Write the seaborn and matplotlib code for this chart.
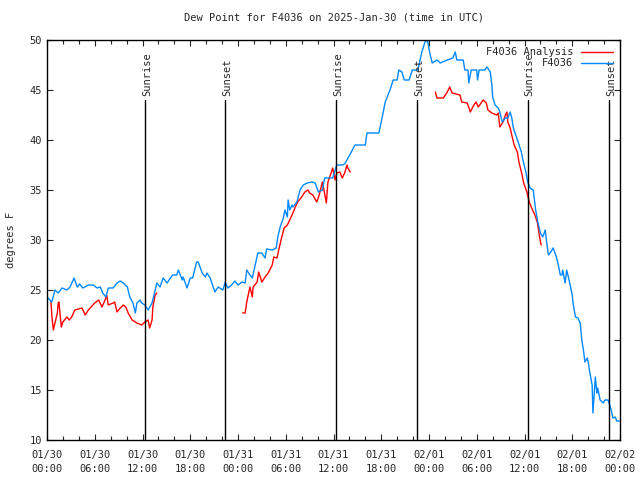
import matplotlib
matplotlib.use("Agg")
import matplotlib.pyplot as plt
import matplotlib.dates as mdates
from matplotlib.lines import Line2D
import numpy as np
import pandas as pd
import seaborn as sns

# hours since 2025-01-30 00:00 UTC, dew point in F
obs_hours = [0.0, 0.6, 1.0, 1.4, 1.9, 2.5, 2.9, 3.4, 3.8, 4.1, 4.5, 5.2, 5.8, 6.3, 6.7, 7.0, 7.4, 7.7, 8.3, 8.8,
             9.2, 9.6, 10.1, 10.4, 10.8, 11.1, 11.3, 11.7, 11.9, 12.3, 12.7, 13.2, 13.6, 13.8, 14.2, 14.6, 15.1,
             15.5, 15.8, 16.3, 16.5, 17.0, 17.1, 17.6, 18.0, 18.3, 18.8, 19.0, 19.5, 19.9, 20.1, 20.5, 21.1,
             21.5, 22.1, 22.4, 22.7, 23.2, 23.6, 24.0, 24.5, 24.9, 25.1, 25.5, 25.8, 26.1, 26.5, 27.0, 27.4,
             27.6, 28.3, 28.8, 29.0, 29.3, 29.7, 29.9, 30.2, 30.3, 30.5, 30.8, 30.9, 31.4, 31.8, 32.2, 32.7,
             33.3, 33.7, 34.1, 34.6, 34.9, 35.9, 36.4, 37.1, 37.4, 37.9, 38.7, 40.0, 40.2, 41.7, 42.1, 42.5,
             43.1, 43.5, 44.0, 44.2, 44.6, 44.9, 45.5, 45.9, 46.6, 47.1, 47.5, 47.8, 48.1, 48.4, 49.0, 49.4,
             50.3, 51.0, 51.3, 51.5, 52.3, 52.5, 52.9, 53.0, 53.3, 54.0, 54.1, 54.3, 55.0, 55.3, 55.7, 55.9,
             56.0, 56.3, 56.7, 56.9, 57.2, 57.6, 57.9, 58.2, 58.4, 58.6, 58.9, 59.2, 59.6, 59.8, 60.2, 60.4,
             60.7, 61.1, 61.4, 61.7, 62.0, 62.3, 62.6, 62.8, 63.0, 63.3, 63.6, 64.0, 64.2, 64.5, 64.7, 64.8,
             65.1, 65.3, 65.6, 66.0, 66.1, 66.4, 66.7, 67.0, 67.2, 67.4, 67.6, 67.9, 68.0, 68.2, 68.5, 68.6,
             68.9, 69.1, 69.2, 69.5, 69.9, 70.1, 70.5, 70.9, 71.1, 71.4, 71.6, 71.9]
obs_dewpt = [24.3, 23.8, 25.0, 24.7, 25.2, 25.0, 25.3, 26.2, 25.3, 25.6, 25.2, 25.5, 25.5, 25.2, 25.3, 24.7, 24.3,
             25.2, 25.2, 25.7, 25.9, 25.7, 25.3, 24.3, 23.7, 22.7, 23.7, 24.0, 23.7, 23.5, 23.0, 23.7, 25.0,
             25.7, 25.3, 26.2, 25.7, 26.2, 26.5, 26.5, 27.0, 26.0, 26.3, 25.2, 26.2, 26.2, 27.8, 27.8, 26.7,
             26.3, 26.7, 26.2, 24.8, 25.3, 25.0, 25.8, 25.2, 25.5, 25.9, 25.5, 25.8, 25.7, 27.0, 26.5, 26.2,
             27.3, 28.7, 28.7, 28.2, 29.1, 29.0, 29.2, 30.3, 31.3, 32.2, 33.0, 32.3, 34.0, 33.0, 33.5, 33.3,
             33.8, 35.0, 35.5, 35.7, 35.8, 35.7, 34.8, 35.0, 36.2, 36.2, 37.5, 37.5, 37.6, 38.3, 39.5, 39.5,
             40.7, 40.7, 42.2, 43.8, 45.0, 46.0, 46.0, 47.0, 46.8, 46.0, 46.0, 47.0, 47.0, 48.8, 49.8, 50.0,
             48.7, 47.7, 48.0, 47.7, 48.0, 48.2, 48.8, 48.0, 48.0, 47.0, 47.0, 45.7, 47.0, 47.0, 46.0, 47.0,
             47.0, 47.3, 46.8, 45.5, 44.3, 43.5, 43.2, 42.8, 41.8, 42.2, 42.2, 42.8, 42.2, 41.2, 40.5, 39.8,
             38.8, 38.0, 36.7, 35.8, 35.2, 35.0, 33.0, 31.7, 30.7, 30.3, 31.0, 29.7, 28.5, 28.8, 29.2, 28.3,
             27.7, 26.5, 26.5, 27.0, 25.7, 27.0, 26.0, 24.5, 23.7, 22.3, 22.2, 21.7, 20.0, 19.0, 17.8, 18.2,
             17.8, 16.8, 15.5, 12.7, 16.3, 14.7, 15.2, 14.0, 13.7, 14.0, 14.0, 13.0, 12.2, 12.3, 11.9, 11.9]

# analysis comes in three separate runs (gaps between them)
ana_hours_1 = [0.5, 0.6, 0.8, 1.0, 1.3, 1.4, 1.5, 1.8, 2.0, 2.5, 2.8, 3.1, 3.5, 4.4, 4.8, 5.2, 6.0, 6.5, 6.9, 7.3,
               7.5, 7.7, 8.3, 8.5, 8.8, 9.2, 9.6, 9.9, 10.2, 10.7, 11.3, 11.9, 12.3, 12.7, 12.9, 13.2, 13.3,
               13.6, 13.8]
ana_dewpt_1 = [23.8, 22.5, 21.0, 21.7, 22.7, 23.7, 23.8, 21.3, 21.8, 22.3, 22.0, 22.3, 23.0, 23.2, 22.5, 23.0,
               23.7, 24.0, 23.3, 24.0, 24.5, 23.5, 23.7, 23.8, 22.8, 23.2, 23.5, 23.3, 22.7, 22.0, 21.7, 21.5,
               21.8, 22.0, 21.2, 22.0, 23.3, 24.5, 24.7]
ana_hours_2 = [24.6, 24.9, 25.1, 25.5, 25.8, 25.9, 26.4, 26.6, 27.0, 27.4, 27.8, 28.3, 28.5, 28.9, 29.2, 29.5,
               29.8, 30.2, 30.5, 30.9, 31.2, 31.5, 32.0, 32.4, 32.8, 33.0, 33.4, 33.9, 34.2, 34.6, 34.8, 35.1,
               35.3, 35.7, 35.9, 36.2, 36.4, 36.8, 37.1, 37.4, 37.7, 37.8, 38.1]
ana_dewpt_2 = [22.7, 22.7, 23.8, 25.3, 24.3, 25.3, 25.8, 26.8, 25.8, 26.3, 26.7, 27.5, 28.3, 28.2, 29.3, 30.3,
               31.2, 31.5, 32.0, 32.7, 33.3, 33.8, 34.3, 34.8, 35.0, 34.7, 34.5, 33.8, 34.5, 35.8, 35.0, 33.7,
               35.8, 36.7, 37.2, 36.0, 36.7, 36.8, 36.2, 36.7, 37.5, 37.2, 36.8]
ana_hours_3 = [48.8, 49.0, 49.8, 50.3, 50.6, 50.9, 51.9, 52.1, 52.8, 53.2, 53.5, 53.9, 54.2, 54.8, 55.2, 55.4,
               55.9, 56.5, 56.7, 56.9, 57.3, 57.6, 57.8, 57.9, 58.2, 58.4, 58.7, 59.1, 59.3, 59.7, 59.9, 60.3,
               60.6, 60.9, 61.3, 61.6, 61.8, 62.0, 62.1]
ana_dewpt_3 = [44.8, 44.2, 44.2, 44.8, 45.3, 44.7, 44.5, 43.8, 43.7, 42.8, 43.3, 43.8, 43.3, 44.0, 43.7, 43.0,
               42.7, 42.5, 42.7, 41.3, 41.8, 42.5, 42.8, 41.8, 41.2, 40.5, 39.5, 38.8, 37.8, 36.5, 35.7, 34.8,
               33.8, 33.2, 32.5, 31.8, 30.8, 29.8, 29.5]

sun_events = ["Sunrise", "Sunset", "Sunrise", "Sunset", "Sunrise", "Sunset"]
sun_hours = [12.3, 22.4, 36.3, 46.5, 60.4, 70.6]

start = pd.Timestamp("2025-01-30 00:00")
to_time = lambda hrs: start + pd.to_timedelta(np.asarray(hrs), unit="h")

obs = pd.DataFrame({"time": to_time(obs_hours), "dewpt": obs_dewpt})
ana = pd.concat([
    pd.DataFrame({"time": to_time(h), "dewpt": d, "run": i})
    for i, (h, d) in enumerate([(ana_hours_1, ana_dewpt_1), (ana_hours_2, ana_dewpt_2), (ana_hours_3, ana_dewpt_3)])
], ignore_index=True)

sns.set_style("ticks", {"xtick.direction": "in", "ytick.direction": "in"})
plt.rcParams["font.family"] = ["DejaVu Sans Mono"]
fs = 7.5

fig = plt.figure(figsize=(6.4, 4.8), dpi=100)
ax = fig.add_axes([47 / 640, 40 / 480, 573 / 640, 400 / 480])

red = "#ff0000"
blue = "#0088ff"
sns.lineplot(data=ana, x="time", y="dewpt", units="run", estimator=None, color=red, linewidth=1.0, ax=ax)
sns.lineplot(data=obs, x="time", y="dewpt", color=blue, linewidth=1.0, ax=ax)

# sunrise / sunset markers
for name, t in zip(sun_events, to_time(sun_hours)):
    ax.plot([t, t], [10, 44], color="black", linewidth=1.0)
    ax.text(t + pd.Timedelta(minutes=15), 44.4, name, rotation=90, ha="center", va="bottom", fontsize=fs)

ax.set_xlim(start, start + pd.Timedelta(hours=72))
ax.set_ylim(10, 50)
ax.xaxis.set_major_locator(mdates.HourLocator(byhour=[0, 6, 12, 18]))
ax.xaxis.set_minor_locator(mdates.HourLocator(interval=2))
ax.xaxis.set_major_formatter(mdates.DateFormatter("%m/%d\n%H:%M"))
ax.set_yticks(range(10, 51, 5))
ax.tick_params(which="both", top=True, right=True, direction="in", labelsize=fs, width=0.8)
ax.tick_params(which="major", length=4.5)
ax.tick_params(which="minor", length=3)
ax.tick_params(axis="x", pad=7)
for lbl in ax.get_xticklabels():
    lbl.set_linespacing(1.5)
for s in ax.spines.values():
    s.set_visible(True)
    s.set_color("black")
    s.set_linewidth(1.0)

ax.set_xlabel("")
ax.set_ylabel("degrees F", fontsize=fs, labelpad=10)
ax.set_title("Dew Point for F4036 on 2025-Jan-30 (time in UTC)", fontsize=fs, pad=14)

handles = [Line2D([], [], color=red, linewidth=1.0), Line2D([], [], color=blue, linewidth=1.0)]
ax.legend(handles, ["F4036 Analysis", "F4036"], loc="upper right", frameon=False, markerfirst=False,
          fontsize=fs, handlelength=3.0, labelspacing=0.1, borderaxespad=0.5, borderpad=0.2)

fig.savefig("out.png", dpi=100)
